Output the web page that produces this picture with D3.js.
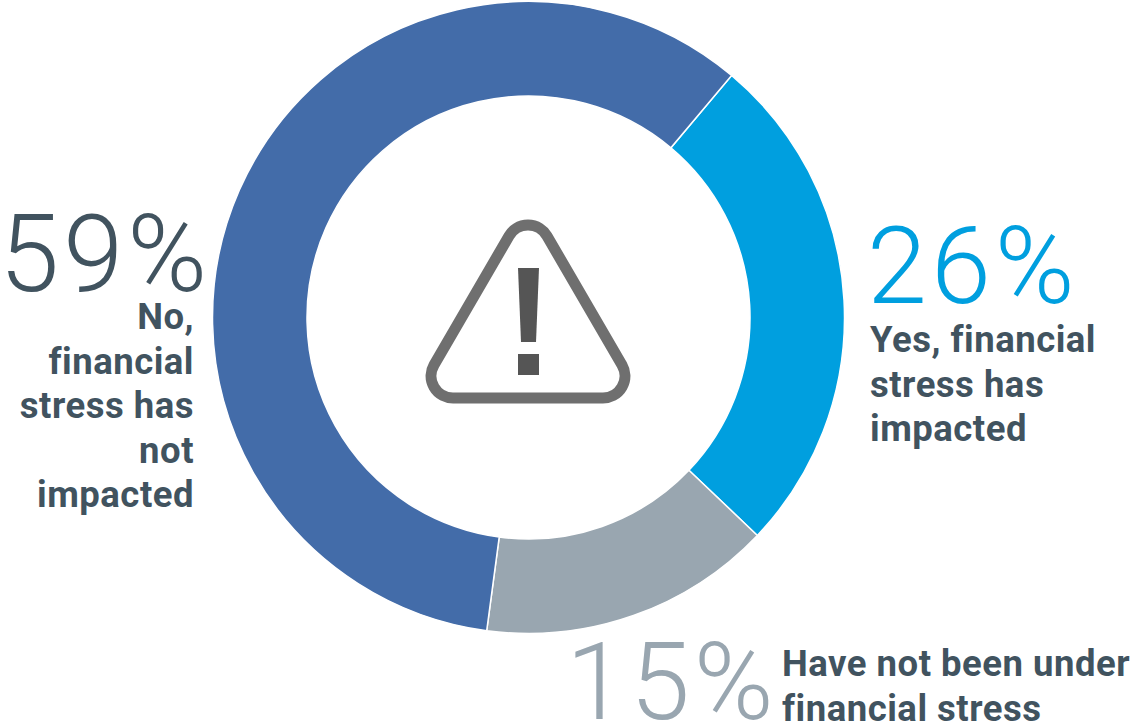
<!DOCTYPE html>
<html>
<head>
<meta charset="utf-8">
<script src="https://cdnjs.cloudflare.com/ajax/libs/d3/7.8.5/d3.min.js"></script>
<style>
  html, body { margin: 0; padding: 0; background: #fff; }
  svg { display: block; }
  .pct { font-family: "Roboto", sans-serif; font-weight: 300; font-size: 108px; letter-spacing: 4px; }
  .lab { font-family: "Roboto", sans-serif; font-weight: 700; font-size: 36.5px; letter-spacing: 0.5px; fill: #41535f; }
</style>
</head>
<body>
<svg id="chart" width="1138" height="726"></svg>
<script>
// Survey shares, clockwise from the upper right of the ring
const categories = ["Yes", "Not under stress", "No"];
const shares = [26, 15, 59];
const sliceColors = ["#009fdf", "#99a6b0", "#436ca9"];

// Callout text for each share
const pctLabels = ["26%", "15%", "59%"];
const pctColors = ["#009fdf", "#99a6b0", "#41535f"];
const pctAnchors = [[867, 303, "start"], [566, 719, "start"], [211, 291, "end"]];
const descLines = [
  ["Yes, financial", "stress has", "impacted"],
  ["Have not been under", "financial stress"],
  ["No,", "financial", "stress has", "not", "impacted"]
];
const descAnchors = [[870, 352, "start"], [782, 676, "start"], [194, 329, "end"]];
const descLeading = 44.5;

const svg = d3.select("#chart");
const cx = 528.5, cy = 317.5, outerR = 316, innerR = 221.5;

const pie = d3.pie().sort(null).value(d => d)
  .startAngle(40 * Math.PI / 180)
  .endAngle((40 + 360) * Math.PI / 180);
const arc = d3.arc().innerRadius(innerR).outerRadius(outerR);

svg.append("g").attr("transform", `translate(${cx},${cy})`)
  .selectAll("path").data(pie(shares)).join("path")
  .attr("d", arc)
  .attr("fill", (d, i) => sliceColors[i])
  .attr("stroke", "#fff").attr("stroke-width", 1.5);

// Warning sign in the hole of the ring
const sign = svg.append("g");
sign.append("path")
  .attr("d", "M547 236 L622 365 A22 22 0 0 1 603 398 L453 398 A22 22 0 0 1 434 365 L509 236 A22 22 0 0 1 547 236 Z")
  .attr("fill", "none").attr("stroke", "#6f6f6f").attr("stroke-width", 11);
sign.append("path").attr("d", "M518 268 H539 L536 342 H521 Z").attr("fill", "#555");
sign.append("rect").attr("x", 518).attr("y", 354).attr("width", 21).attr("height", 21).attr("fill", "#555");

// Percentages
svg.append("g").selectAll("text").data(pctLabels).join("text")
  .attr("class", "pct")
  .attr("x", (d, i) => pctAnchors[i][0])
  .attr("y", (d, i) => pctAnchors[i][1])
  .attr("text-anchor", (d, i) => pctAnchors[i][2])
  .attr("fill", (d, i) => pctColors[i])
  .text(d => d);

// Descriptions under or beside each percentage
descLines.forEach((lines, i) => {
  svg.append("g").selectAll("text").data(lines).join("text")
    .attr("class", "lab")
    .attr("x", descAnchors[i][0])
    .attr("y", (d, j) => descAnchors[i][1] + j * descLeading)
    .attr("text-anchor", descAnchors[i][2])
    .text(d => d);
});
</script>
</body>
</html>
